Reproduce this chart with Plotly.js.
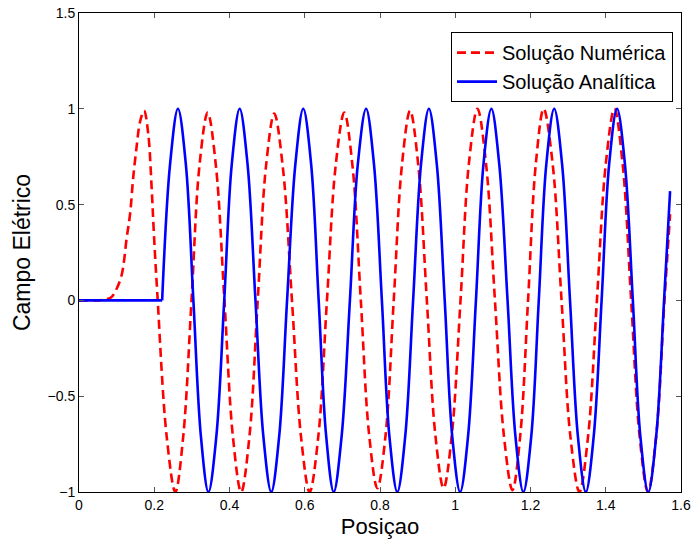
<!DOCTYPE html>
<html>
<head>
<meta charset="utf-8">
<script src="https://cdn.plot.ly/plotly-3.0.1.min.js"></script>
<style>html,body{margin:0;padding:0;background:#fff;}#chart{width:691px;height:545px;}</style>
</head>
<body>
<div id="chart"></div>
<script>
// Numerical solution (red dashed)
var xNum = [0, 0.05, 0.07, 0.085, 0.096, 0.113, 0.127, 0.136, 0.144, 0.153, 0.162, 0.173, 0.184, 0.193, 0.199, 0.208,
  0.233, 0.256, 0.277, 0.299, 0.320,
  0.342, 0.364, 0.3865, 0.409,
  0.431, 0.453, 0.475, 0.497,
  0.519, 0.542, 0.566, 0.590,
  0.613, 0.636, 0.659, 0.682,
  0.705, 0.727, 0.749, 0.771,
  0.793, 0.815, 0.8365, 0.858,
  0.880, 0.902, 0.9245, 0.947,
  0.969, 0.991, 1.014, 1.036,
  1.059, 1.082, 1.1055, 1.129,
  1.152, 1.173, 1.1935, 1.214,
  1.235, 1.259, 1.2825, 1.306,
  1.330, 1.353, 1.3765, 1.400,
  1.423, 1.445, 1.4675, 1.490,
  1.512, 1.534, 1.556, 1.571];
var yNum = [0, 0, 0.005, 0.015, 0.045, 0.13, 0.33, 0.455, 0.64, 0.80, 0.93, 0.99, 0.87, 0.59, 0.35, 0.04,
  -0.71, -1.0, -0.71, 0, 0.70,
  0.98, 0.70, 0, -0.71,
  -1.0, -0.71, 0, 0.70,
  0.975, 0.69, 0, -0.71,
  -1.0, -0.71, 0, 0.70,
  0.98, 0.70, 0, -0.70,
  -0.98, -0.70, 0, 0.70,
  0.99, 0.70, 0, -0.70,
  -0.98, -0.70, 0, 0.71,
  1.0, 0.71, 0, -0.70,
  -0.99, -0.70, 0, 0.71,
  1.0, 0.71, 0, -0.71,
  -1.0, -0.71, 0, 0.71,
  1.0, 0.71, 0, -0.71,
  -1.0, -0.71, 0, 0.45];

// Analytical solution (blue solid): flat part, then oscillation
var xAnaFlat = [0, 0.221];
var yAnaFlat = [0, 0];
var xAna = [0.221, 0.242, 0.263, 0.284, 0.304, 0.324, 0.344, 0.365,
  0.386, 0.406, 0.427, 0.448, 0.469, 0.490, 0.511, 0.532,
  0.553, 0.575, 0.596, 0.617, 0.637, 0.657, 0.677, 0.698,
  0.720, 0.741, 0.763, 0.784, 0.805, 0.825, 0.846, 0.867,
  0.888, 0.909, 0.930, 0.951, 0.972, 0.992, 1.013, 1.034,
  1.055, 1.075, 1.096, 1.117, 1.139, 1.160, 1.181, 1.202,
  1.222, 1.242, 1.263, 1.284, 1.305, 1.326, 1.347, 1.368,
  1.389, 1.409, 1.430, 1.451, 1.472, 1.492, 1.513, 1.534,
  1.555, 1.571];
var yAna = [0, 0.71, 1, 0.71, 0, -0.71, -1, -0.71,
  0, 0.71, 1, 0.71, 0, -0.71, -1, -0.71,
  0, 0.71, 1, 0.71, 0, -0.71, -1, -0.71,
  0, 0.71, 1, 0.71, 0, -0.71, -1, -0.71,
  0, 0.71, 1, 0.71, 0, -0.71, -1, -0.71,
  0, 0.71, 1, 0.71, 0, -0.71, -1, -0.71,
  0, 0.71, 1, 0.71, 0, -0.71, -1, -0.71,
  0, 0.71, 1, 0.71, 0, -0.71, -1, -0.71,
  0, 0.57];

var xTickVals = [0, 0.2, 0.4, 0.6, 0.8, 1, 1.2, 1.4, 1.6];
var xTickText = ['0', '0.2', '0.4', '0.6', '0.8', '1', '1.2', '1.4', '1.6'];
var yTickVals = [-1, -0.5, 0, 0.5, 1, 1.5];
var yTickText = ['\u22121', '\u22120.5', '0', '0.5', '1', '1.5'];

var seriesNames = ['Solução Numérica', 'Solução Analítica'];

var traces = [
  {x: xNum, y: yNum, type: 'scatter', mode: 'lines', name: seriesNames[0],
   line: {color: '#ff0000', width: 2.6, dash: '9px,5px', shape: 'spline', smoothing: 1}},
  {x: xAnaFlat, y: yAnaFlat, type: 'scatter', mode: 'lines', showlegend: false,
   legendgroup: 'ana', line: {color: '#0000ff', width: 2.6}},
  {x: xAna, y: yAna, type: 'scatter', mode: 'lines', name: seriesNames[1],
   legendgroup: 'ana', line: {color: '#0000ff', width: 2.6, shape: 'spline', smoothing: 1}}
];

var fontFam = 'Liberation Sans, Arial, sans-serif';
var layout = {
  width: 691, height: 545,
  margin: {l: 79, r: 10, t: 13, b: 53, pad: 0},
  paper_bgcolor: '#ffffff', plot_bgcolor: '#ffffff',
  font: {family: fontFam, color: '#000000'},
  showlegend: true,
  legend: {x: 0.9867, xanchor: 'right', y: 0.96, yanchor: 'top',
    bordercolor: '#000000', borderwidth: 1, bgcolor: '#ffffff',
    font: {family: fontFam, size: 20, color: '#000000'}, tracegroupgap: 0, itemwidth: 40},
  xaxis: {range: [0, 1.6], tickvals: xTickVals, ticktext: xTickText,
    ticks: 'inside', ticklen: 5, tickcolor: '#555', showgrid: false, zeroline: false,
    showline: true, linecolor: '#000', linewidth: 1, mirror: 'ticks',
    tickfont: {family: fontFam, size: 14},
    title: {text: 'Posiçao', font: {family: fontFam, size: 22}, standoff: 6}},
  yaxis: {range: [-1, 1.5], tickvals: yTickVals, ticktext: yTickText,
    ticks: 'inside', ticklen: 5, tickcolor: '#555', showgrid: false, zeroline: false,
    showline: true, linecolor: '#000', linewidth: 1, mirror: 'ticks',
    tickfont: {family: fontFam, size: 14},
    title: {text: 'Campo Elétrico', font: {family: fontFam, size: 23}, standoff: 10}}
};

Plotly.newPlot('chart', traces, layout, {displayModeBar: false, staticPlot: true});
</script>
</body>
</html>
